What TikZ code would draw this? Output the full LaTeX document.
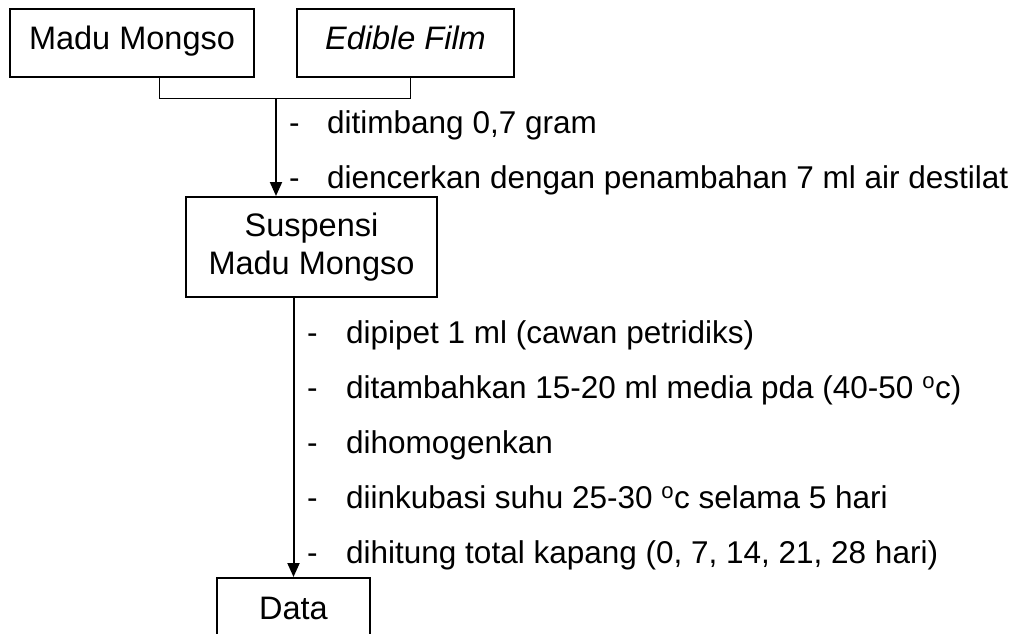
\documentclass[tikz,border=0pt]{standalone}
\usepackage{fontspec}
\setmainfont{Liberation Sans}
\usetikzlibrary{arrows.meta}
\begin{document}
\begin{tikzpicture}[x=1pt,y=-1pt,
  box/.style={draw,line width=2pt,inner sep=0pt,align=center,font=\fontsize{32.5}{38}\selectfont},
  oneline/.style={text height=22pt,text depth=9pt},
  flow/.style={line width=2pt,-{Triangle[length=14pt,width=12pt]}},
  joint/.style={line width=1pt},
  stepitem/.style={anchor=base west,inner sep=0pt,font=\fontsize{31.5}{36}\selectfont}]
\useasboundingbox (0,0) rectangle (1025,634);
\clip (0,0) rectangle (1025,634);
% source boxes
\node[box,oneline,minimum width=244pt,minimum height=68pt] (madu) at (132,43) {Madu Mongso};
\node[box,oneline,minimum width=217pt,minimum height=68pt] (film) at (405.5,43) {\itshape Edible Film};
% suspension and result boxes
\node[box,minimum width=251pt,minimum height=100pt] (susp) at (311.5,247) {Suspensi\\Madu Mongso};
\node[box,text height=23pt,text depth=7pt,minimum width=153pt,minimum height=66pt,anchor=north] (data) at (293.5,577) {Data};
% joining bracket under the two sources
\coordinate (jl) at (159.5,98.5);
\coordinate (jr) at (410,98.5);
\coordinate (jm) at (276,98.5);
\draw[joint] (madu.south -| jl) -- (jl) -- (jr) -- (film.south -| jr);
\draw[flow] (jm) -- (susp.north -| jm);
\draw[flow] (susp.south -| data.north) -- (data.north);
% first group of steps
\node[stepitem] (s1) at (289,133) {\makebox[38pt][l]{-}ditimbang 0,7 gram};
\node[stepitem] (s2) at (289,188) {\makebox[38pt][l]{-}diencerkan dengan penambahan 7 ml air destilat};
% second group of steps
\node[stepitem] (t1) at (307,343) {\makebox[39pt][l]{-}dipipet 1 ml (cawan petridiks)};
\node[stepitem] (t2) at (307,398) {\makebox[39pt][l]{-}ditambahkan 15-20 ml media pda (40-50 \textsuperscript{o}c)};
\node[stepitem] (t3) at (307,453) {\makebox[39pt][l]{-}dihomogenkan};
\node[stepitem] (t4) at (307,508) {\makebox[39pt][l]{-}diinkubasi suhu 25-30 \textsuperscript{o}c selama 5 hari};
\node[stepitem] (t5) at (307,563) {\makebox[39pt][l]{-}dihitung total kapang (0, 7, 14, 21, 28 hari)};
\end{tikzpicture}
\end{document}
